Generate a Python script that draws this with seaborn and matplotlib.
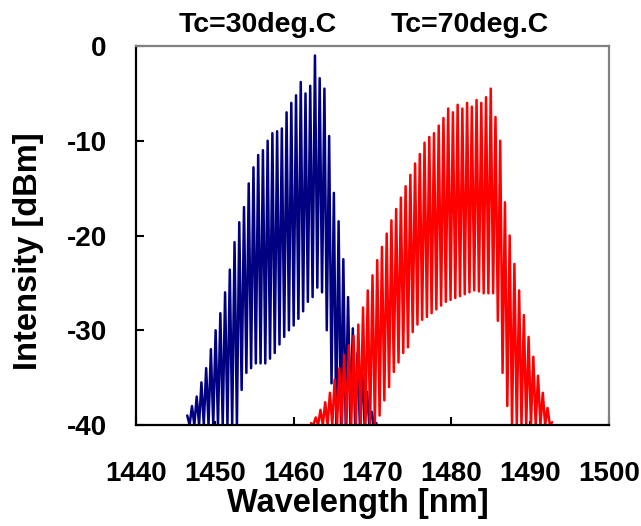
import numpy as np
import pandas as pd
import seaborn as sns
from matplotlib import pyplot as plt
from matplotlib.ticker import MultipleLocator, FormatStrFormatter

# Tc=30deg.C : spectrum sampled every 0.3 nm (peak / valley of the longitudinal modes)
wl_30 = np.arange(1446.5, 1470.51, 0.3)
dbm_30 = [-39.0, -40, -38.0, -40, -37.0, -40, -35.5, -40, -34.0, -40,
          -32.0, -40, -30.0, -40, -28.2, -40, -26.0, -40, -23.6, -40,
          -20.7, -40, -18.6, -36.3, -17.0, -34.5, -14.5, -34.0, -12.8, -33.5,
          -11.5, -33.5, -11.0, -33.5, -10.0, -33.0, -9.2, -32.4, -9.0, -31.5,
          -8.7, -30.7, -7.0, -30.0, -6.0, -29.5, -5.2, -28.8, -3.8, -28.0,
          -5.0, -27.0, -4.2, -26.5, -1.0, -25.5, -3.4, -26.0, -4.5, -30.0,
          -9.5, -35.6, -15.5, -40, -18.5, -40, -22.5, -40, -26.5, -40,
          -29.8, -40, -32.4, -40, -34.6, -40, -36.5, -40, -38.6, -40,
          -39.8]

# Tc=70deg.C
wl_70 = np.arange(1462.2, 1492.81, 0.3)
dbm_70 = [-39.8, -40, -39.2, -40, -38.4, -40, -37.6, -40, -36.6, -40,
          -35.2, -40, -34.0, -40, -32.6, -40, -31.6, -40, -30.6, -40,
          -29.4, -40, -27.6, -40, -25.8, -40, -24.2, -40, -22.6, -39.0,
          -21.2, -37.4, -19.8, -36.0, -18.4, -34.4, -17.2, -33.4, -16.0, -32.4,
          -14.8, -31.8, -13.6, -30.2, -12.4, -29.4, -11.4, -28.9, -10.2, -28.6,
          -9.6, -28.2, -9.2, -27.8, -8.4, -27.4, -7.6, -27.0, -6.6, -26.8,
          -7.0, -26.6, -6.2, -26.4, -6.6, -26.2, -6.0, -26.0, -6.4, -25.8,
          -5.7, -25.9, -6.0, -26.1, -5.4, -26.1, -4.5, -26.1, -7.5, -29.0,
          -10.0, -34.5, -16.5, -38.0, -20.0, -40, -23.0, -40, -25.8, -40,
          -28.4, -40, -30.7, -40, -32.8, -40, -34.8, -40, -36.6, -40,
          -38.2, -40, -39.7]

titles = ['Tc=30deg.C', 'Tc=70deg.C']
colors = ['#000080', '#ff0000']

df30 = pd.DataFrame({'wl': wl_30[:len(dbm_30)], 'dbm': dbm_30})
df70 = pd.DataFrame({'wl': wl_70[:len(dbm_70)], 'dbm': dbm_70})

sns.set_theme(style='white')
plt.rcParams['font.family'] = ['Liberation Sans', 'DejaVu Sans']
plt.rcParams['font.weight'] = 'bold'
plt.rcParams['text.color'] = 'black'
plt.rcParams['axes.labelcolor'] = 'black'
plt.rcParams['xtick.color'] = 'black'
plt.rcParams['ytick.color'] = 'black'

fig = plt.figure(figsize=(6.41, 5.26), dpi=100)
ax = fig.add_axes([136 / 641, 101 / 526, 473 / 641, 379 / 526])

sns.lineplot(data=df30, x='wl', y='dbm', color=colors[0], lw=1.8, estimator=None, ax=ax)
sns.lineplot(data=df70, x='wl', y='dbm', color=colors[1], lw=1.8, estimator=None, ax=ax)

ax.set_xlim(1440, 1500)
ax.set_ylim(-40, 0)

ax.xaxis.set_major_locator(MultipleLocator(10))
ax.xaxis.set_major_formatter(FormatStrFormatter('%d'))
ax.yaxis.set_major_locator(MultipleLocator(10))
ax.yaxis.set_major_formatter(FormatStrFormatter('%d'))

ax.tick_params(axis='x', which='major', direction='in', length=3, width=1.5,
               pad=26, labelsize=20, bottom=True, colors='black')
ax.tick_params(axis='y', which='major', direction='in', length=6, width=1.5,
               pad=21, labelsize=20, left=True, colors='black')
for lab in ax.get_xticklabels() + ax.get_yticklabels():
    lab.set_fontweight('bold')

# longer ticks at 1460 and 1480 (every 20 nm)
for tick in ax.xaxis.get_major_ticks():
    if round(tick.get_loc()) % 20 == 0:
        tick.tick1line.set_markersize(6)

for side in ['left', 'bottom']:
    ax.spines[side].set_color('black')
    ax.spines[side].set_linewidth(1.6)
for side in ['top', 'right']:
    ax.spines[side].set_color('#808080')
    ax.spines[side].set_linewidth(1.6)

ax.set_xlabel('Wavelength [nm]', fontsize=23.5, fontweight='bold', color='black')
ax.set_ylabel('Intensity [dBm]', fontsize=23.5, fontweight='bold', color='black')
ax.xaxis.set_label_coords(0.469, -0.206)
ax.xaxis.label.set_verticalalignment('center')
ax.yaxis.set_label_coords(-0.227, 0.459)
ax.yaxis.label.set_verticalalignment('center')

fig.text(258 / 641, 1 - 32 / 526, titles[0], ha='center', va='baseline',
         fontsize=20.5, fontweight='bold', color='black')
fig.text(470 / 641, 1 - 32 / 526, titles[1], ha='center', va='baseline',
         fontsize=20.5, fontweight='bold', color='black')

fig.savefig('out.png', dpi=100)
